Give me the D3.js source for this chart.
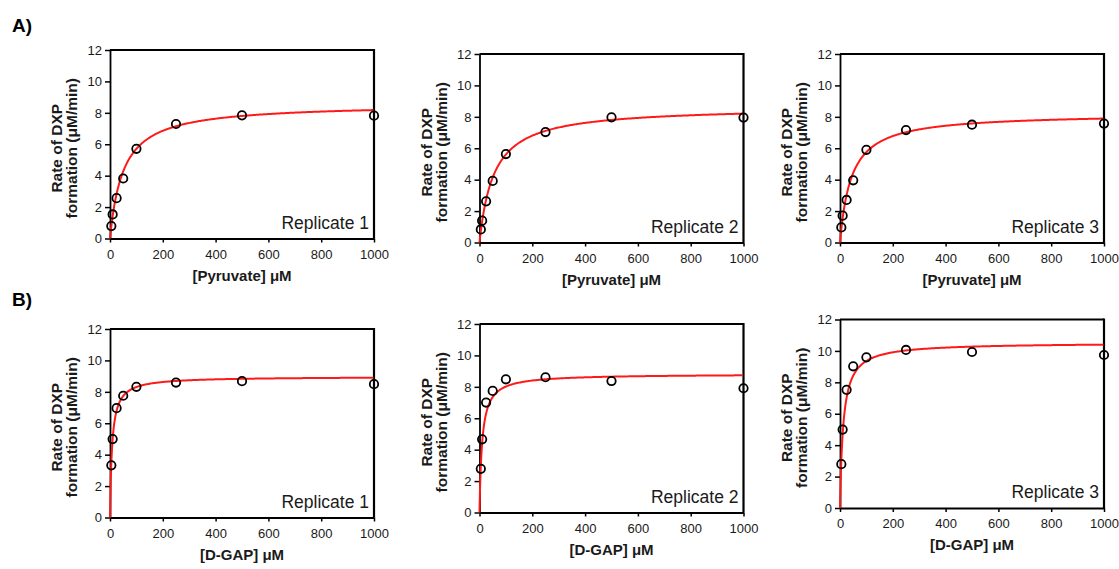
<!DOCTYPE html>
<html>
<head>
<meta charset="utf-8">
<script src="https://cdn.jsdelivr.net/npm/d3@7/dist/d3.min.js"></script>
<style>
  html, body { margin: 0; padding: 0; background: #ffffff; }
  svg { display: block; font-family: "Liberation Sans", Arial, sans-serif; }
</style>
</head>
<body>
<svg id="chart" width="1119" height="569"></svg>
<script>
// ---- Data ----
const substrateConc = [5, 10, 25, 50, 100, 250, 500, 1000];   // µM
const pyruvateRep1 = [0.79, 1.53, 2.57, 3.82, 5.71, 7.29, 7.84, 7.82];
const pyruvateRep2 = [0.83, 1.39, 2.62, 3.92, 5.63, 7.03, 7.97, 7.95];
const pyruvateRep3 = [0.96, 1.71, 2.71, 3.96, 5.90, 7.16, 7.50, 7.57];
const gapRep1 = [3.32, 4.99, 6.96, 7.75, 8.32, 8.59, 8.68, 8.49];
const gapRep2 = [2.78, 4.66, 7.00, 7.74, 8.48, 8.61, 8.37, 7.91];
const gapRep3 = [2.79, 4.99, 7.52, 9.02, 9.59, 10.06, 9.93, 9.74];
// Michaelis–Menten fit parameters (Vmax µM/min, Km µM)
const fitVmax = [8.59, 8.65, 8.23, 8.97, 8.82, 10.53];
const fitKm   = [50.5, 54.4, 43.0, 8.0, 10.0, 12.5];
const replicateLabels = ["Replicate 1", "Replicate 2", "Replicate 3"];
const xTitles = ["[Pyruvate] \u03BCM", "[D-GAP] \u03BCM"];
const rowLabels = ["A)", "B)"];
const xTicks = [0, 200, 400, 600, 800, 1000];
const yTicks = [0, 2, 4, 6, 8, 10, 12];

const seriesList = [pyruvateRep1, pyruvateRep2, pyruvateRep3, gapRep1, gapRep2, gapRep3];

// ---- Layout ----
const panelLeft = [110, 479.5, 840];
const panelTop = [[50, 54, 54], [329, 324, 319.5]];
const plotW = 264, plotH = 188.5;
const rowLabelY = [31.5, 306];

const svg = d3.select("#chart");

rowLabels.forEach((t, r) => {
  svg.append("text").attr("x", 12).attr("y", rowLabelY[r])
    .attr("font-size", 19).attr("font-weight", "bold").attr("fill", "#000").text(t);
});

const curveX = d3.range(0, 50, 0.25).concat(d3.range(50, 1000.01, 4));

for (let r = 0; r < 2; r++) {
  for (let c = 0; c < 3; c++) {
    const idx = r * 3 + c;
    const x0 = panelLeft[c], y0 = panelTop[r][c];
    const g = svg.append("g").attr("transform", `translate(${x0},${y0})`);
    const x = d3.scaleLinear().domain([0, 1000]).range([0, plotW]);
    const y = d3.scaleLinear().domain([0, 12]).range([plotH, 0]);

    // top & right frame
    g.append("line").attr("x1", 0).attr("x2", plotW).attr("y1", 0).attr("y2", 0)
      .attr("stroke", "#000").attr("stroke-width", 2.2);
    g.append("line").attr("x1", plotW).attr("x2", plotW).attr("y1", -1).attr("y2", plotH)
      .attr("stroke", "#000").attr("stroke-width", 2.2);

    // axes
    const yAxis = d3.axisLeft(y).tickValues(yTicks).tickFormat(d3.format("d"))
      .tickSize(5).tickSizeOuter(0).tickPadding(3);
    const xAxis = d3.axisBottom(x).tickValues(xTicks).tickFormat(d3.format("d"))
      .tickSize(4).tickSizeOuter(0).tickPadding(7);
    const ya = g.append("g").call(yAxis);
    const xa = g.append("g").attr("transform", `translate(0,${plotH})`).call(xAxis);
    [ya, xa].forEach(a => {
      a.attr("font-size", null).attr("font-family", null);
      a.select(".domain").attr("stroke", "#000").attr("stroke-width", 1.8);
      a.selectAll(".tick line").attr("stroke", "#000").attr("stroke-width", 1.5);
      a.selectAll(".tick text").style("font-size", "13px").attr("fill", "#1a1a1a")
        .style("font-family", "'Liberation Sans', Arial, sans-serif");
    });

    // fitted curve
    const vmax = fitVmax[idx], km = fitKm[idx];
    const line = d3.line().x(d => x(d)).y(d => y(vmax * d / (km + d)));
    g.append("path").datum(curveX).attr("d", line)
      .attr("fill", "none").attr("stroke", "#ff1a1a").attr("stroke-width", 2);

    // data points
    g.selectAll("circle.pt").data(seriesList[idx]).enter().append("circle")
      .attr("class", "pt")
      .attr("cx", (d, i) => x(substrateConc[i]))
      .attr("cy", d => y(d))
      .attr("r", 4.2)
      .attr("fill", "none").attr("stroke", "#000").attr("stroke-width", 1.8);

    // replicate label
    g.append("text").attr("x", plotW - 5).attr("y", plotH - 10)
      .attr("text-anchor", "end").attr("font-size", 17.5).attr("fill", "#1a1a1a")
      .text(replicateLabels[c]);

    // x title
    g.append("text").attr("x", plotW / 2).attr("y", plotH + 42)
      .attr("text-anchor", "middle").attr("font-size", 15).attr("font-weight", "bold")
      .attr("fill", "#1a1a1a").text(xTitles[r]);

    // y title (two lines)
    const yt = g.append("text")
      .attr("transform", `translate(-53,${plotH / 2 + 4}) rotate(-90)`)
      .attr("text-anchor", "middle").attr("font-size", 15.5).attr("font-weight", "bold")
      .attr("fill", "#1a1a1a");
    yt.append("tspan").attr("x", 0).attr("y", 0).attr("dy", "0.35em").text("Rate of DXP");
    yt.append("tspan").attr("x", 0).attr("y", 15).attr("dy", "0.35em").text("formation (\u03BCM/min)");
  }
}
</script>
</body>
</html>
